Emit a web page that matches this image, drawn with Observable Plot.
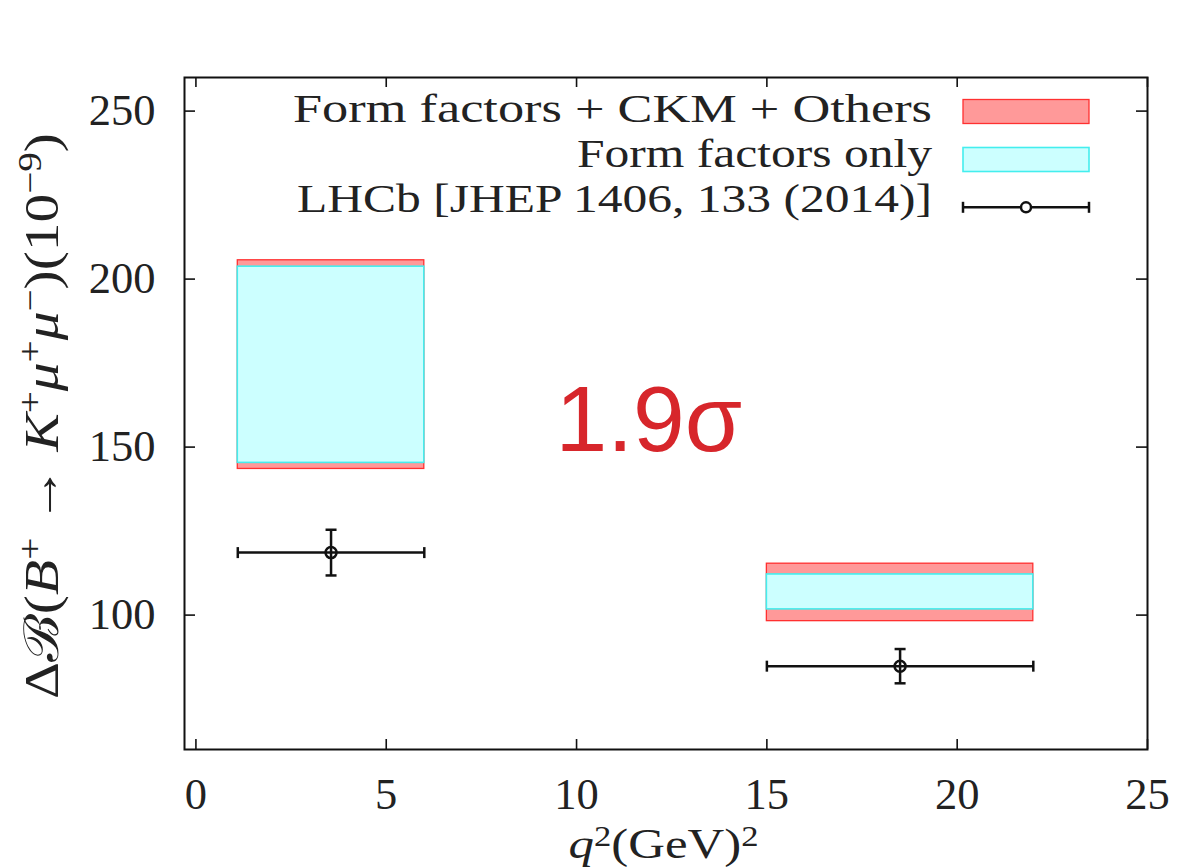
<!DOCTYPE html>
<html><head><meta charset="utf-8">
<script src="https://cdn.jsdelivr.net/npm/d3@7"></script>
<script src="https://cdn.jsdelivr.net/npm/@observablehq/plot@0.6"></script>
<style>
body{margin:0;background:#fff;}
#chart svg{display:block;}
</style>
</head><body><div id="chart"></div>
<script>
// ---- data ----
const binLo   = [1.1, 15];
const binHi   = [6, 22];
const totalLo = [143.5, 98.2];   // Form factors + CKM + Others
const totalHi = [205.6, 115.3];
const ffLo    = [145.3, 101.7];  // Form factors only
const ffHi    = [203.7, 112.1];
const lhcbX   = [3.55, 18.5];    // LHCb central q^2
const lhcbY   = [118.6, 84.8];
const lhcbLo  = [111.8, 79.7];
const lhcbHi  = [125.4, 89.9];
const xTicks  = [0, 5, 10, 15, 20, 25];
const yTicks  = [100, 150, 200, 250];
const legendLabels = ["Form factors + CKM + Others", "Form factors only", "LHCb [JHEP 1406, 133 (2014)]"];
const annotation = [{x: 11.9, y: 157.6, text: "1.9σ"}];

const bins = binLo.map((lo, i) => ({
  lo, hi: binHi[i], tLo: totalLo[i], tHi: totalHi[i], fLo: ffLo[i], fHi: ffHi[i],
  x: lhcbX[i], y: lhcbY[i], eLo: lhcbLo[i], eHi: lhcbHi[i]
}));

// ---- layout ----
const W = 1181, H = 867;
const mL = 184, mR = 34, mT = 77, mB = 118;
const pw = W - mL - mR, ph = H - mT - mB;
const serif = "'Liberation Serif', 'Times New Roman', serif";

const capV = {draw(ctx, size) { const r = Math.sqrt(size / Math.PI); ctx.moveTo(0, -r); ctx.lineTo(0, r); }};
const capH = {draw(ctx, size) { const r = Math.sqrt(size / Math.PI); ctx.moveTo(-r, 0); ctx.lineTo(r, 0); }};

const chart = Plot.plot({
  width: W, height: H,
  marginLeft: mL, marginRight: mR, marginTop: mT, marginBottom: mB,
  style: {fontFamily: serif, background: "#fff", color: "#222"},
  x: {domain: [-0.3, 25], ticks: xTicks, label: null},
  y: {domain: [60, 260], ticks: yTicks, label: null},
  marks: [
    Plot.rect(bins, {x1: "lo", x2: "hi", y1: "tLo", y2: "tHi", fill: "#ff9999", stroke: "#ff3030", strokeWidth: 1.3}),
    Plot.rect(bins, {x1: "lo", x2: "hi", y1: "fLo", y2: "fHi", fill: "#ccffff", stroke: "#44eeee", strokeWidth: 1.6}),
    Plot.link(bins, {x1: "lo", x2: "hi", y1: "y", y2: "y", stroke: "#111", strokeWidth: 2.5}),
    Plot.link(bins, {x1: "x", x2: "x", y1: "eLo", y2: "eHi", stroke: "#111", strokeWidth: 2.5}),
    Plot.dot(bins, {x: "lo", y: "y", symbol: capV, r: 5.5, stroke: "#111", strokeWidth: 2.5, fill: "none"}),
    Plot.dot(bins, {x: "hi", y: "y", symbol: capV, r: 5.5, stroke: "#111", strokeWidth: 2.5, fill: "none"}),
    Plot.dot(bins, {x: "x", y: "eLo", symbol: capH, r: 5.5, stroke: "#111", strokeWidth: 2.5, fill: "none"}),
    Plot.dot(bins, {x: "x", y: "eHi", symbol: capH, r: 5.5, stroke: "#111", strokeWidth: 2.5, fill: "none"}),
    Plot.dot(bins, {x: "x", y: "y", r: 5.5, stroke: "#111", strokeWidth: 2.5, fill: "none"}),
    Plot.text(annotation, {x: "x", y: "y", text: "text", fill: "#d7262b", fontSize: 93,
      fontFamily: "'Liberation Sans', Arial, sans-serif", textAnchor: "middle", lineAnchor: "middle"}),
    // inward ticks
    Plot.tickY(yTicks, {y: d => d, insetRight: pw - 11, stroke: "#111", strokeWidth: 1.6}),
    Plot.tickY(yTicks, {y: d => d, insetLeft: pw - 11, stroke: "#111", strokeWidth: 1.6}),
    Plot.tickX(xTicks, {x: d => d, insetTop: ph - 10, stroke: "#111", strokeWidth: 1.6}),
    Plot.tickX(xTicks, {x: d => d, insetBottom: ph - 10, stroke: "#111", strokeWidth: 1.6}),
    Plot.frame({stroke: "#111", strokeWidth: 2}),
    Plot.axisY(yTicks, {tickSize: 0, tickPadding: 29, fontSize: 44.5, fill: "#222"}),
    Plot.axisX(xTicks, {tickSize: 0, tickPadding: 28, fontSize: 44.5, fill: "#222"})
  ]
});
document.getElementById("chart").appendChild(chart);

// ---- axis titles and legend (rich text) ----
const svg = d3.select(chart);

function addRich(textSel, parts, base, raise) {
  let raised = false;
  for (const p of parts) {
    const ts = textSel.append("tspan").text(p.t);
    if (p.i) ts.attr("font-style", "italic");
    if (p.sup && !raised) { ts.attr("dy", -raise * base); raised = true; }
    else if (!p.sup && raised) { ts.attr("dy", raise * base); raised = false; }
    if (p.sup) ts.attr("font-size", 0.68 * base);
  }
}

const yLab = svg.append("text")
  .attr("transform", `translate(58, 416) rotate(-90)`)
  .attr("text-anchor", "middle").attr("font-family", serif).attr("font-size", 48).attr("fill", "#222")
  .attr("textLength", 566).attr("lengthAdjust", "spacingAndGlyphs");
addRich(yLab, [
  {t: "Δℬ("}, {t: "B", i: true}, {t: "+", sup: true}, {t: " → "}, {t: "K", i: true}, {t: "+", sup: true},
  {t: "μ", i: true}, {t: "+", sup: true}, {t: "μ", i: true}, {t: "−", sup: true}, {t: ")(10"}, {t: "−9", sup: true}, {t: ")"}
], 48, 0.36);

const xLab = svg.append("text")
  .attr("x", mL + pw / 2 - 2).attr("y", 858)
  .attr("text-anchor", "middle").attr("font-family", serif).attr("font-size", 42).attr("fill", "#222")
  .attr("textLength", 190).attr("lengthAdjust", "spacingAndGlyphs");
addRich(xLab, [{t: "q", i: true}, {t: "2", sup: true}, {t: "(GeV)"}, {t: "2", sup: true}], 42, 0.28);

// legend
const legTextX = 932, legBase = [122, 167, 212], legWidth = [639, 355, 635];
const swX1 = 963, swX2 = 1089;
const leg = svg.append("g");
legendLabels.forEach((lab, i) => {
  leg.append("text").attr("x", legTextX).attr("y", legBase[i]).attr("text-anchor", "end")
    .attr("font-family", serif).attr("font-size", 40.5).attr("fill", "#222")
    .attr("textLength", legWidth[i]).attr("lengthAdjust", "spacingAndGlyphs").text(lab);
});
leg.append("rect").attr("x", swX1).attr("y", 99.5).attr("width", swX2 - swX1).attr("height", 24)
  .attr("fill", "#ff9999").attr("stroke", "#ff3030").attr("stroke-width", 1.3);
leg.append("rect").attr("x", swX1).attr("y", 147.5).attr("width", swX2 - swX1).attr("height", 24)
  .attr("fill", "#ccffff").attr("stroke", "#44eeee").attr("stroke-width", 1.6);
const ly = 207.3;
leg.append("line").attr("x1", swX1).attr("x2", swX2).attr("y1", ly).attr("y2", ly).attr("stroke", "#111").attr("stroke-width", 2.5);
leg.append("line").attr("x1", swX1).attr("x2", swX1).attr("y1", ly - 5.5).attr("y2", ly + 5.5).attr("stroke", "#111").attr("stroke-width", 2.5);
leg.append("line").attr("x1", swX2).attr("x2", swX2).attr("y1", ly - 5.5).attr("y2", ly + 5.5).attr("stroke", "#111").attr("stroke-width", 2.5);
leg.append("circle").attr("cx", 1026).attr("cy", ly).attr("r", 5).attr("fill", "#fff").attr("stroke", "#111").attr("stroke-width", 2.5);
</script>
</body></html>
